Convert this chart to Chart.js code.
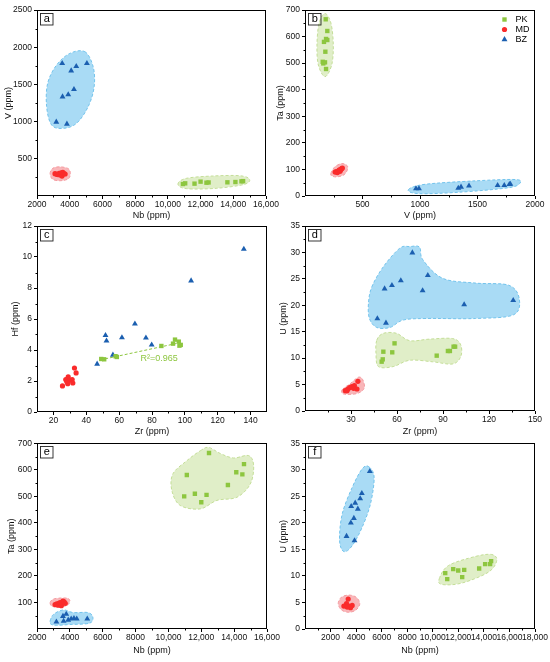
<!DOCTYPE html>
<html><head><meta charset="utf-8">
<script src="https://cdn.jsdelivr.net/npm/chart.js@4.4.1/dist/chart.umd.min.js"></script>
<style>
html,body{margin:0;padding:0;background:#fff;}
body{width:550px;height:662px;position:relative;overflow:hidden;}
canvas{position:absolute;}
</style></head><body>
<canvas id="pa"></canvas><canvas id="pb"></canvas>
<canvas id="pc"></canvas><canvas id="pd"></canvas>
<canvas id="pe"></canvas><canvas id="pf"></canvas>
<script>
// ---------- Panel a : Nb vs V ----------
const a_PK_Nb = [10920, 11060, 11630, 12000, 12360, 12490, 13640, 14130, 14500, 14600];
const a_PK_V  = [161, 170, 166, 193, 179, 182, 184, 188, 197, 200];
const a_MD_Nb = [3100, 3200, 3280, 3350, 3420, 3480, 3530, 3580, 3650, 3720];
const a_MD_V  = [300, 292, 288, 305, 282, 312, 268, 318, 300, 296];
const a_BZ_Nb = [3540, 4090, 4400, 5050, 4260, 3910, 3560, 3180, 3830];
const a_BZ_V  = [1783, 1684, 1743, 1783, 1434, 1362, 1335, 995, 968];
// ---------- Panel b : V vs Ta ----------
const b_PK_V  = [180, 194, 183, 165, 194, 177, 154, 174, 159, 183];
const b_PK_Ta = [665, 621, 591, 580, 587, 543, 505, 503, 499, 478];
const b_MD_V  = [262, 272, 282, 290, 298, 305, 312, 318, 325, 300];
const b_MD_Ta = [90, 92, 88, 95, 97, 93, 100, 103, 105, 98];
const b_BZ_V  = [965, 991, 1333, 1357, 1426, 1675, 1733, 1777, 1786];
const b_BZ_Ta = [28, 28, 30, 34, 38, 40, 40, 44, 45];
// ---------- Panel c : Zr vs Hf ----------
const c_PK_Zr = [49.1, 50.9, 57.8, 58.6, 85.7, 92.8, 94.0, 96.3, 96.7, 97.5];
const c_PK_Hf = [3.42, 3.40, 3.60, 3.55, 4.26, 4.41, 4.67, 4.54, 4.28, 4.33];
const c_MD_Zr = [25.5, 28.7, 29.0, 27.5, 30.2, 31.4, 31.8, 32.8, 33.8, 28.1];
const c_MD_Hf = [1.68, 1.83, 2.26, 2.09, 2.05, 2.09, 1.87, 2.84, 2.52, 1.96];
const c_BZ_Zr = [135.9, 103.8, 69.6, 51.7, 52.3, 61.7, 76.3, 79.8, 56.2, 46.6];
const c_BZ_Hf = [10.51, 8.47, 5.69, 4.95, 4.59, 4.80, 4.78, 4.33, 3.68, 3.10];
const c_FIT_Zr = [48.5, 97.5];
const c_FIT_Hf = [3.36, 4.48];
const c_R2 = 'R\u00B2=0.965';
// ---------- Panel d : Zr vs U ----------
const d_PK_Zr = [58.4, 51.1, 56.9, 50.7, 50.0, 85.9, 93.2, 94.5, 96.9, 97.9];
const d_PK_U  = [12.80, 11.22, 11.10, 9.77, 9.33, 10.47, 11.35, 11.35, 12.17, 12.17];
const d_MD_Zr = [26.3, 27.8, 29.1, 30.6, 32.2, 33.9, 34.5, 27.4, 31.7];
const d_MD_U  = [3.85, 4.10, 4.41, 4.60, 4.79, 4.16, 5.61, 3.85, 4.29];
const d_BZ_Zr = [70.0, 80.1, 62.5, 56.7, 51.9, 76.7, 103.8, 135.8, 47.2, 52.8];
const d_BZ_U  = [29.95, 25.67, 24.66, 23.77, 23.14, 22.77, 20.12, 20.94, 17.47, 16.65];
// ---------- Panel e : Nb vs Ta ----------
const e_PK_Nb = [10960, 11120, 11610, 12000, 12320, 12470, 13620, 14130, 14500, 14600];
const e_PK_Ta = [500, 581, 510, 478, 506, 664, 543, 591, 583, 622];
const e_MD_Nb = [3100, 3200, 3280, 3350, 3420, 3480, 3530, 3580, 3650, 3720];
const e_MD_Ta = [92, 95, 90, 98, 100, 88, 96, 105, 102, 97];
const e_BZ_Nb = [3180, 3580, 3780, 3620, 3900, 4080, 4250, 4420, 5060];
const e_BZ_Ta = [27, 48, 56, 30, 34, 38, 40, 38, 38];
// ---------- Panel f : Nb vs U ----------
const f_PK_Nb = [10975, 11131, 11600, 11990, 12459, 12303, 13630, 14098, 14488, 14566];
const f_PK_U  = [10.54, 9.41, 11.29, 11.04, 11.16, 9.79, 11.40, 12.23, 12.23, 12.80];
const f_MD_Nb = [3381, 3251, 3043, 3433, 3693, 3563, 3303];
const f_MD_U  = [5.64, 4.77, 4.33, 4.33, 4.45, 4.01, 4.14];
const f_BZ_Nb = [5072, 4448, 4318, 3928, 3615, 4136, 3824, 3589, 3251, 3876];
const f_BZ_U  = [29.73, 25.59, 24.59, 23.77, 23.14, 22.64, 20.89, 20.01, 17.50, 16.68];
// ---------- tick labels ----------
const TICKS_NB16 = [2000, 4000, 6000, 8000, 10000, 12000, 14000, 16000];
const TICKS_NB18 = [2000, 4000, 6000, 8000, 10000, 12000, 14000, 16000, 18000];
const TICKS_V    = [500, 1000, 1500, 2000, 2500];
const TICKS_VX   = [500, 1000, 1500, 2000];
const TICKS_TA   = [0, 100, 200, 300, 400, 500, 600, 700];
const TICKS_TA_E = [100, 200, 300, 400, 500, 600, 700];
const TICKS_ZR_C = [20, 40, 60, 80, 100, 120, 140];
const TICKS_ZR_D = [30, 60, 90, 120, 150];
const TICKS_HF   = [0, 2, 4, 6, 8, 10, 12];
const TICKS_U    = [0, 5, 10, 15, 20, 25, 30, 35];
const GROUPS = ['PK', 'MD', 'BZ'];
// ---------- envelope outlines (data units) ----------
const a_PK_ENV = [[10616,161],[11124,237],[12749,269],[14375,273],[14984,228],[14680,157],[12952,103],[11124,99]];
const a_MD_ENV = [[2800,300],[2960,372],[3402,392],[3910,368],[4040,300],[3910,230],[3402,205],[2955,225]];
const a_BZ_ENV = [[4926,1940],[5434,1738],[5495,1469],[5129,1201],[4418,977],[3605,909],[2894,954],[2589,1201],[2650,1514],[3199,1761],[4012,1917]];
const b_PK_ENV = [[174,687],[226,650],[246,568],[232,493],[174,449],[116,493],[104,568],[122,650]];
const b_MD_ENV = [[225,85],[260,110],[320,122],[365,115],[370,100],[340,80],[280,72],[235,75]];
const b_BZ_ENV = [[899,24],[1044,44],[1479,57],[1826,62],[1870,49],[1768,31],[1334,14],[986,9]];
const d_BZ_ENV = [[43.6,23.5],[51.1,27.3],[61.8,30.8],[68.3,31.1],[74.7,31.0],[76.9,28.6],[89.8,25.1],[111.3,24.2],[132.8,23.8],[139.7,21.3],[136.0,18.2],[111.3,17.5],[79.0,17.5],[64.0,17.2],[55.4,15.8],[46.8,15.8],[42.0,17.5],[41.4,20.4]];
const d_PK_ENV = [[46.8,13.4],[51.1,14.7],[59.7,14.7],[68.3,13.3],[81.2,13.6],[96.3,13.7],[101.6,12.5],[101.6,10.3],[96.3,8.9],[83.4,9.3],[68.3,9.6],[57.5,8.4],[47.9,8.4],[46.3,10.9]];
const d_MD_ENV = [[24.2,4.0],[29.6,5.2],[34.9,6.4],[37.7,5.9],[38.6,4.3],[33.9,3.3],[25.3,3.2]];
const e_PK_ENV = [[11936,672],[12444,685],[13156,662],[13968,645],[14883,654],[15188,616],[14984,547],[14172,497],[12952,485],[11936,453],[10717,466],[10209,522],[10270,585],[11124,635]];
const e_MD_ENV = [[2800,100],[3000,113],[3500,117],[3900,115],[4000,103],[3800,88],[3300,83],[2900,86]];
const e_BZ_ENV = [[2800,30],[3000,55],[3600,72],[4200,62],[5100,62],[5400,45],[5200,22],[4000,17],[3200,14],[2850,18]];
const f_BZ_ENV = [[4994,30.6],[5410,28.6],[5124,23.6],[4474,19.2],[3693,15.7],[3043,14.6],[2705,16.7],[2913,21.7],[3693,26.7],[4474,30.2]];
const f_PK_ENV = [[10508,9.47],[11236,11.98],[13317,13.67],[14618,14.05],[15008,12.92],[14357,10.72],[12276,8.66],[10716,8.40]];
const f_MD_ENV = [[2600,4.8],[2850,6.0],[3433,6.4],[4000,6.0],[4290,4.8],[4000,3.6],[3433,3.15],[2850,3.6]];

// ---------- styles ----------
const FONT = "'Liberation Sans', Arial, sans-serif";
const TICK_SIZE = 8.5, TITLE_SIZE = 9;
const COL = {PK:'#8dc63f', MD:'#fa2b2b', BZ:'#1b5fb0'};
const FILL = {PK:'#e0eec8', MD:'#f9b6b9', BZ:'#a9dbf5'};
const LINE = {PK:'#c4de98', MD:'#f49ca1', BZ:'#72c3ec'};
const STYLE = {PK:'rect', MD:'circle', BZ:'triangle'};
const RAD = {PK:3.1, MD:2.6, BZ:3.4};

function pts(xs, ys){ return xs.map((x,i)=>({x:x, y:ys[i]})); }
function ds(g, xs, ys){
  return {label:g, data:pts(xs,ys), pointStyle:STYLE[g], pointRadius:RAD[g], pointHoverRadius:RAD[g],
    backgroundColor:COL[g], borderColor:COL[g], borderWidth:0, showLine:false};
}
function env(g, p){ return {pts:p, fill:FILL[g], line:LINE[g]}; }
function fmt(v){ return v >= 10000 ? v.toLocaleString('en-US') : String(v); }

const blobPlugin = {
  id:'blobs',
  beforeDatasetsDraw(chart, args, opts){
    const {ctx, chartArea:a} = chart; const x = chart.scales.x, y = chart.scales.y;
    (opts.list||[]).forEach(b=>{
      const p = b.pts.map(q=>[x.getPixelForValue(q[0]), y.getPixelForValue(q[1])]);
      const n = p.length;
      ctx.save();
      ctx.beginPath(); ctx.rect(a.left, a.top, a.right-a.left, a.bottom-a.top); ctx.clip();
      ctx.beginPath(); ctx.moveTo(p[0][0], p[0][1]);
      for (let i=0;i<n;i++){
        const p0=p[(i-1+n)%n], p1=p[i], p2=p[(i+1)%n], p3=p[(i+2)%n];
        ctx.bezierCurveTo(p1[0]+(p2[0]-p0[0])/6, p1[1]+(p2[1]-p0[1])/6,
                          p2[0]-(p3[0]-p1[0])/6, p2[1]-(p3[1]-p1[1])/6, p2[0], p2[1]);
      }
      ctx.closePath();
      ctx.fillStyle = b.fill; ctx.fill();
      ctx.setLineDash([3,2]); ctx.lineWidth = 1; ctx.strokeStyle = b.line; ctx.stroke();
      ctx.restore();
    });
  }
};

function marker(ctx, g, cx, cy){
  const r = RAD[g]; ctx.fillStyle = COL[g]; ctx.beginPath();
  if (g==='PK'){ const s=r*Math.SQRT1_2; ctx.rect(cx-s, cy-s, 2*s, 2*s); }
  else if (g==='MD'){ ctx.arc(cx, cy, r, 0, Math.PI*2); }
  else { for (let k=0;k<3;k++){ const ang=k*2*Math.PI/3; const px=cx+Math.sin(ang)*r, py=cy-Math.cos(ang)*r; k?ctx.lineTo(px,py):ctx.moveTo(px,py);} ctx.closePath(); }
  ctx.fill();
}

const decoPlugin = {
  id:'deco',
  afterDraw(chart, args, o){
    const {ctx, chartArea:a} = chart; const x = chart.scales.x, y = chart.scales.y;
    ctx.save();
    const L = Math.round(a.left)+0.5, T = Math.round(a.top)+0.5, R = Math.round(a.right)-0.5, B = Math.round(a.bottom)-0.5;
    ctx.strokeStyle = '#000'; ctx.lineWidth = 1; ctx.setLineDash([]);
    ctx.strokeRect(L, T, R-L, B-T);
    // minor ticks
    ctx.beginPath();
    const xs = o.xt, xstep = xs[1]-xs[0];
    for (let v = xs[0]-xstep/2; v < x.max; v += xstep){ if (v <= x.min) continue; const px = Math.round(x.getPixelForValue(v))+0.5; ctx.moveTo(px, B); ctx.lineTo(px, B+2); }
    const ys = o.yt, ystep = ys[1]-ys[0];
    for (let v = ys[0]-ystep/2; v < y.max; v += ystep){ if (v <= y.min) continue; const py = Math.round(y.getPixelForValue(v))+0.5; ctx.moveTo(L, py); ctx.lineTo(L-2, py); }
    ctx.stroke();
    // panel letter
    ctx.lineWidth = 0.9; ctx.strokeStyle = '#222';
    ctx.strokeRect(L+3, T+3, 12.5, 11.5);
    ctx.fillStyle = '#000'; ctx.font = '11px ' + FONT; ctx.textAlign = 'center'; ctx.textBaseline = 'middle';
    ctx.fillText(o.letter, L+9.3, T+8.6);
    // legend
    if (o.legend){
      ctx.font = TITLE_SIZE + 'px ' + FONT; ctx.textAlign = 'left';
      GROUPS.forEach((g,i)=>{ const cy = T + 9 + i*10; marker(ctx, g, R-30, cy); ctx.fillStyle = '#000'; ctx.fillText(g, R-19, cy+0.5); });
    }
    if (o.note){
      ctx.font = TITLE_SIZE + 'px ' + FONT; ctx.textAlign = 'left'; ctx.fillStyle = COL.PK;
      ctx.fillText(o.note.text, x.getPixelForValue(o.note.x), y.getPixelForValue(o.note.y));
    }
    ctx.restore();
  }
};

function panel(P){
  const cv = document.getElementById(P.id);
  const [bx, by, bw, bh] = P.box; const [L, T, R, B] = P.area;
  cv.style.left = bx+'px'; cv.style.top = by+'px';
  cv.style.width = bw+'px'; cv.style.height = bh+'px';
  cv.width = bw; cv.height = bh;
  const yW = L-bx, xH = by+bh-B, padT = T-by, padR = bx+bw-R;
  const half = TITLE_SIZE*1.2/2;
  const zero = s=>{ s.paddingLeft=0; s.paddingRight=0; s.paddingTop=0; s.paddingBottom=0; };
  const grid = {display:true, drawOnChartArea:false, drawTicks:true, tickLength:3, color:'#000', tickColor:'#000', lineWidth:1};
  new Chart(cv, {
    type:'scatter',
    data:{datasets:P.sets},
    options:{
      responsive:false, animation:false, events:[],
      layout:{padding:{top:padT, right:padR, left:0, bottom:0}},
      plugins:{legend:{display:false}, tooltip:{enabled:false}, blobs:{list:P.env||[]},
        deco:{letter:P.letter, xt:P.x.t, yt:P.y.t, legend:!!P.legend, note:P.note}},
      scales:{
        x:{type:'linear', position:'bottom', min:P.x.min, max:P.x.max,
          afterBuildTicks:s=>{ s.ticks = P.x.t.map(v=>({value:v})); },
          afterFit:s=>{ s.height = xH; zero(s); },
          ticks:{autoSkip:false, maxRotation:0, minRotation:0, padding:1, color:'#111', font:{family:FONT, size:TICK_SIZE}, callback:v=>fmt(v)},
          grid:grid, border:{display:false},
          title:{display:true, text:P.x.title, color:'#111', font:{family:FONT, size:TITLE_SIZE}, padding:{top:0, bottom:(by+bh-P.x.tc-half)}}},
        y:{type:'linear', position:'left', min:P.y.min, max:P.y.max,
          afterBuildTicks:s=>{ s.ticks = P.y.t.map(v=>({value:v})); },
          afterFit:s=>{ s.width = yW; zero(s); },
          ticks:{autoSkip:false, padding:2, color:'#111', font:{family:FONT, size:TICK_SIZE}, callback:v=>fmt(v)},
          grid:grid, border:{display:false},
          title:{display:true, text:P.y.title, color:'#111', font:{family:FONT, size:TITLE_SIZE}, padding:{top:(P.y.tc-bx-half), bottom:0}}}
      }
    },
    plugins:[blobPlugin, decoPlugin]
  });
}

panel({id:'pa', letter:'a', box:[0,0,292,225], area:[37,10,266,196],
  x:{min:2000, max:16000, t:TICKS_NB16, title:'Nb (ppm)', tc:216},
  y:{min:0, max:2500, t:TICKS_V, title:'V (ppm)', tc:9},
  sets:[ds('PK',a_PK_Nb,a_PK_V), ds('MD',a_MD_Nb,a_MD_V), ds('BZ',a_BZ_Nb,a_BZ_V)],
  env:[env('PK',a_PK_ENV), env('MD',a_MD_ENV), env('BZ',a_BZ_ENV)]});

panel({id:'pb', letter:'b', legend:true, box:[275,0,275,225], area:[305,10,535,196],
  x:{min:0, max:2000, t:TICKS_VX, title:'V (ppm)', tc:216},
  y:{min:0, max:700, t:TICKS_TA, title:'Ta (ppm)', tc:281},
  sets:[ds('PK',b_PK_V,b_PK_Ta), ds('MD',b_MD_V,b_MD_Ta), ds('BZ',b_BZ_V,b_BZ_Ta)],
  env:[env('PK',b_PK_ENV), env('MD',b_MD_ENV), env('BZ',b_BZ_ENV)]});

panel({id:'pc', letter:'c', box:[0,220,292,225], area:[37,226,267,412],
  x:{min:10, max:150, t:TICKS_ZR_C, title:'Zr (ppm)', tc:432},
  y:{min:0, max:12, t:TICKS_HF, title:'Hf (ppm)', tc:16},
  note:{text:c_R2, x:73, y:3.45},
  sets:[{type:'line', label:'fit', data:pts(c_FIT_Zr,c_FIT_Hf), borderColor:COL.PK, borderWidth:1, borderDash:[3,2], pointRadius:0, fill:false},
        ds('PK',c_PK_Zr,c_PK_Hf), ds('MD',c_MD_Zr,c_MD_Hf), ds('BZ',c_BZ_Zr,c_BZ_Hf)]});

panel({id:'pd', letter:'d', box:[275,220,275,225], area:[305,226,535,411],
  x:{min:0, max:150, t:TICKS_ZR_D, title:'Zr (ppm)', tc:432},
  y:{min:0, max:35, t:TICKS_U, title:'U (ppm)', tc:284},
  sets:[ds('PK',d_PK_Zr,d_PK_U), ds('MD',d_MD_Zr,d_MD_U), ds('BZ',d_BZ_Zr,d_BZ_U)],
  env:[env('BZ',d_BZ_ENV), env('PK',d_PK_ENV), env('MD',d_MD_ENV)]});

panel({id:'pe', letter:'e', box:[0,440,292,222], area:[37,443,267,629],
  x:{min:2000, max:16000, t:TICKS_NB16, title:'Nb (ppm)', tc:651},
  y:{min:0, max:700, t:TICKS_TA_E, title:'Ta (ppm)', tc:12},
  sets:[ds('PK',e_PK_Nb,e_PK_Ta), ds('MD',e_MD_Nb,e_MD_Ta), ds('BZ',e_BZ_Nb,e_BZ_Ta)],
  env:[env('PK',e_PK_ENV), env('MD',e_MD_ENV), env('BZ',e_BZ_ENV)]});

panel({id:'pf', letter:'f', box:[275,440,275,222], area:[305,443,535,629],
  x:{min:0, max:18000, t:TICKS_NB18, title:'Nb (ppm)', tc:651},
  y:{min:0, max:35, t:TICKS_U, title:'U (ppm)', tc:284},
  sets:[ds('PK',f_PK_Nb,f_PK_U), ds('MD',f_MD_Nb,f_MD_U), ds('BZ',f_BZ_Nb,f_BZ_U)],
  env:[env('BZ',f_BZ_ENV), env('PK',f_PK_ENV), env('MD',f_MD_ENV)]});
</script>
</body></html>
